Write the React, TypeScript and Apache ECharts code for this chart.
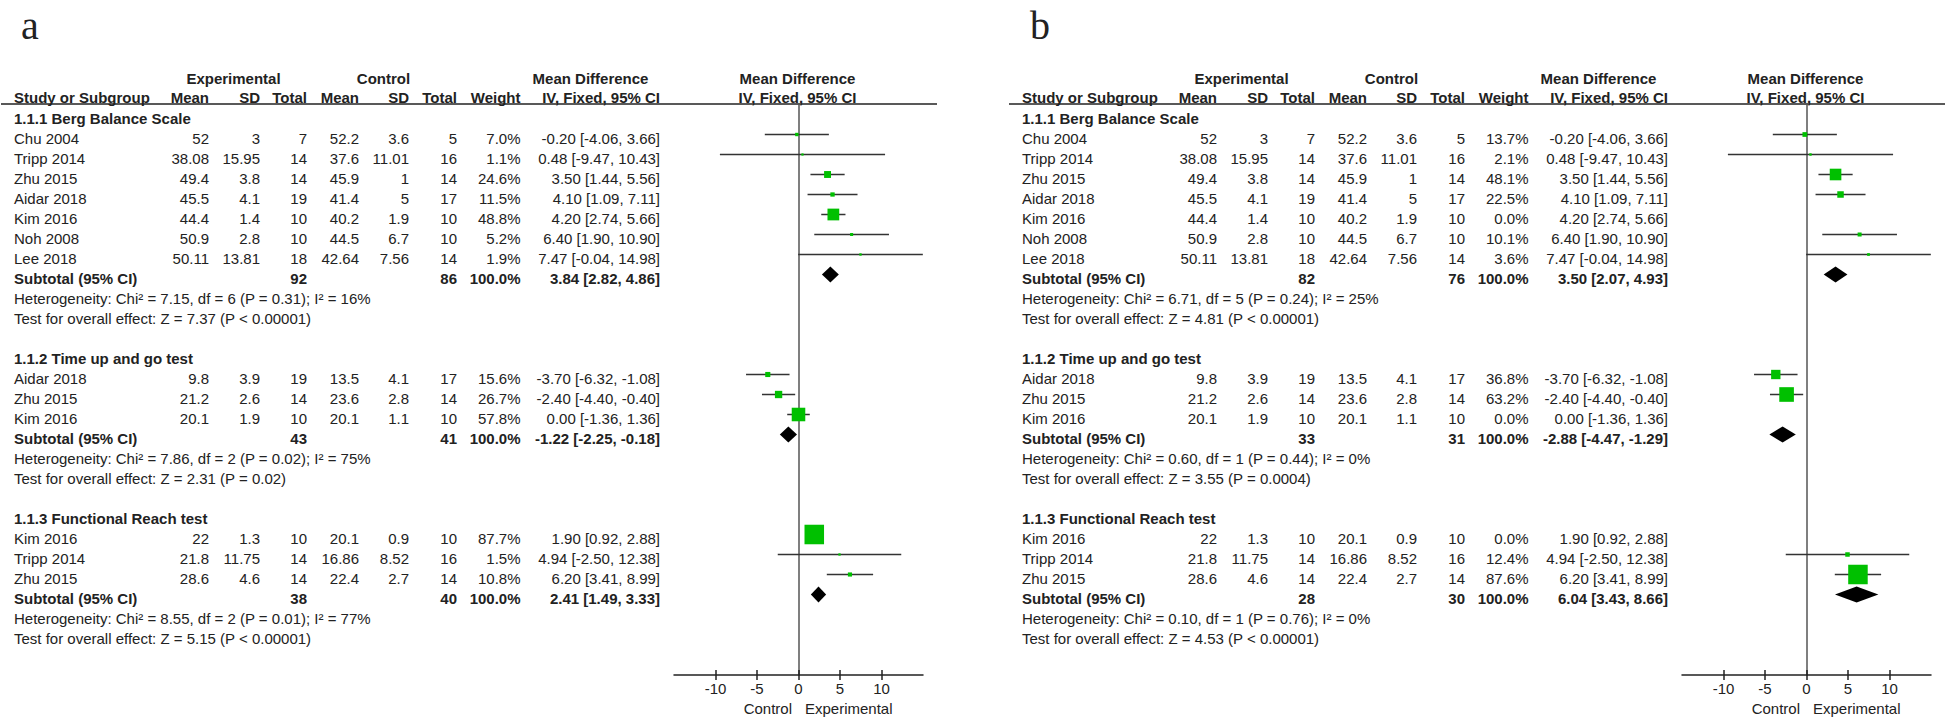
import React, { useEffect, useRef } from "react";
import * as echarts from "echarts";

// ---------- DATA ----------
const panelLabels = ["a", "b"];
const groupTitles = ["1.1.1 Berg Balance Scale", "1.1.2 Time up and go test", "1.1.3 Functional Reach test"];

// 1.1.1 Berg Balance Scale
const g1Names = ["Chu 2004", "Tripp 2014", "Zhu 2015", "Aidar 2018", "Kim 2016", "Noh 2008", "Lee 2018"];
const g1ExpMean = [52, 38.08, 49.4, 45.5, 44.4, 50.9, 50.11];
const g1ExpSD = [3, 15.95, 3.8, 4.1, 1.4, 2.8, 13.81];
const g1ExpN = [7, 14, 14, 19, 10, 10, 18];
const g1CtlMean = [52.2, 37.6, 45.9, 41.4, 40.2, 44.5, 42.64];
const g1CtlSD = [3.6, 11.01, 1, 5, 1.9, 6.7, 7.56];
const g1CtlN = [5, 16, 14, 17, 10, 10, 14];
const g1MD = [-0.2, 0.48, 3.5, 4.1, 4.2, 6.4, 7.47];
const g1Lo = [-4.06, -9.47, 1.44, 1.09, 2.74, 1.9, -0.04];
const g1Hi = [3.66, 10.43, 5.56, 7.11, 5.66, 10.9, 14.98];
const g1WeightA = [7.0, 1.1, 24.6, 11.5, 48.8, 5.2, 1.9];
const g1WeightB = [13.7, 2.1, 48.1, 22.5, 0.0, 10.1, 3.6];

// 1.1.2 Time up and go test
const g2Names = ["Aidar 2018", "Zhu 2015", "Kim 2016"];
const g2ExpMean = [9.8, 21.2, 20.1];
const g2ExpSD = [3.9, 2.6, 1.9];
const g2ExpN = [19, 14, 10];
const g2CtlMean = [13.5, 23.6, 20.1];
const g2CtlSD = [4.1, 2.8, 1.1];
const g2CtlN = [17, 14, 10];
const g2MD = [-3.7, -2.4, 0.0];
const g2Lo = [-6.32, -4.4, -1.36];
const g2Hi = [-1.08, -0.4, 1.36];
const g2WeightA = [15.6, 26.7, 57.8];
const g2WeightB = [36.8, 63.2, 0.0];

// 1.1.3 Functional Reach test
const g3Names = ["Kim 2016", "Tripp 2014", "Zhu 2015"];
const g3ExpMean = [22, 21.8, 28.6];
const g3ExpSD = [1.3, 11.75, 4.6];
const g3ExpN = [10, 14, 14];
const g3CtlMean = [20.1, 16.86, 22.4];
const g3CtlSD = [0.9, 8.52, 2.7];
const g3CtlN = [10, 16, 14];
const g3MD = [1.9, 4.94, 6.2];
const g3Lo = [0.92, -2.5, 3.41];
const g3Hi = [2.88, 12.38, 8.99];
const g3WeightA = [87.7, 1.5, 10.8];
const g3WeightB = [0.0, 12.4, 87.6];

// Subtotals
const subExpNA = [92, 43, 38];
const subCtlNA = [86, 41, 40];
const subMDA = [3.84, -1.22, 2.41];
const subLoA = [2.82, -2.25, 1.49];
const subHiA = [4.86, -0.18, 3.33];
const subExpNB = [82, 33, 28];
const subCtlNB = [76, 31, 30];
const subMDB = [3.5, -2.88, 6.04];
const subLoB = [2.07, -4.47, 3.43];
const subHiB = [4.93, -1.29, 8.66];

const hetA = [
  "Heterogeneity: Chi\u00b2 = 7.15, df = 6 (P = 0.31); I\u00b2 = 16%",
  "Heterogeneity: Chi\u00b2 = 7.86, df = 2 (P = 0.02); I\u00b2 = 75%",
  "Heterogeneity: Chi\u00b2 = 8.55, df = 2 (P = 0.01); I\u00b2 = 77%",
];
const testA = [
  "Test for overall effect: Z = 7.37 (P < 0.00001)",
  "Test for overall effect: Z = 2.31 (P = 0.02)",
  "Test for overall effect: Z = 5.15 (P < 0.00001)",
];
const hetB = [
  "Heterogeneity: Chi\u00b2 = 6.71, df = 5 (P = 0.24); I\u00b2 = 25%",
  "Heterogeneity: Chi\u00b2 = 0.60, df = 1 (P = 0.44); I\u00b2 = 0%",
  "Heterogeneity: Chi\u00b2 = 0.10, df = 1 (P = 0.76); I\u00b2 = 0%",
];
const testB = [
  "Test for overall effect: Z = 4.81 (P < 0.00001)",
  "Test for overall effect: Z = 3.55 (P = 0.0004)",
  "Test for overall effect: Z = 4.53 (P < 0.00001)",
];

const xTicks = [-10, -5, 0, 5, 10];
const favourLabels = ["Control", "Experimental"];

// ---------- LAYOUT ----------
const FONT = '"Liberation Sans", Arial, Helvetica, sans-serif';
const TXT = "#222";
const PANEL_DX = 1008;
const ROW0 = 118.5;
const ROW_H = 20;
const Y_TOP = 104;
const Y_AXIS = 675;
const COL = { left: 14, expMean: 209, expSD: 260, expN: 307, ctlMean: 359, ctlSD: 409, ctlN: 457, weight: 520.5, md: 660 };

const fmtCI = (m: number, l: number, h: number) => `${m.toFixed(2)} [${l.toFixed(2)}, ${h.toFixed(2)}]`;

function text(str: string, x: number, y: number, align: string, bold = false, size = 15, family = FONT) {
  return {
    type: "text",
    x,
    y,
    silent: true,
    style: {
      text: str,
      font: `${bold ? "bold " : ""}${size}px ${family}`,
      fill: TXT,
      align,
      verticalAlign: "middle",
      textAlign: align,
      textVerticalAlign: "middle",
    },
  };
}

export default function App() {
  const ref = useRef<HTMLDivElement>(null);

  useEffect(() => {
    document.body.style.margin = "0";
    if (!ref.current) return;
    const chart = echarts.init(ref.current, undefined, { renderer: "svg" });

    const groupsA = [
      { names: g1Names, em: g1ExpMean, es: g1ExpSD, en: g1ExpN, cm: g1CtlMean, cs: g1CtlSD, cn: g1CtlN, md: g1MD, lo: g1Lo, hi: g1Hi, w: g1WeightA },
      { names: g2Names, em: g2ExpMean, es: g2ExpSD, en: g2ExpN, cm: g2CtlMean, cs: g2CtlSD, cn: g2CtlN, md: g2MD, lo: g2Lo, hi: g2Hi, w: g2WeightA },
      { names: g3Names, em: g3ExpMean, es: g3ExpSD, en: g3ExpN, cm: g3CtlMean, cs: g3CtlSD, cn: g3CtlN, md: g3MD, lo: g3Lo, hi: g3Hi, w: g3WeightA },
    ];
    const groupsB = groupsA.map((g, i) => ({ ...g, w: [g1WeightB, g2WeightB, g3WeightB][i] }));
    const panels = [
      { groups: groupsA, sen: subExpNA, scn: subCtlNA, smd: subMDA, slo: subLoA, shi: subHiA, het: hetA, test: testA },
      { groups: groupsB, sen: subExpNB, scn: subCtlNB, smd: subMDB, slo: subLoB, shi: subHiB, het: hetB, test: testB },
    ];

    const graphics: any[] = [];
    const series: any[] = [];
    const grids: any[] = [];
    const xAxes: any[] = [];
    const yAxes: any[] = [];

    panels.forEach((p, pi) => {
      const dx = pi * PANEL_DX;
      // panel letter
      graphics.push(text(panelLabels[pi], 21 + dx + (pi ? 1 : 0), 25, "left", false, 40, '"Liberation Serif", "Times New Roman", serif'));
      // headers
      graphics.push(text("Experimental", 233.5 + dx, 78, "center", true));
      graphics.push(text("Control", 383.5 + dx, 78, "center", true));
      graphics.push(text("Mean Difference", 590.5 + dx, 78, "center", true));
      graphics.push(text("Mean Difference", 797.5 + dx, 78, "center", true));
      graphics.push(text("Study or Subgroup", COL.left + dx, 97.5, "left", true));
      graphics.push(text("Mean", COL.expMean + dx, 97.5, "right", true));
      graphics.push(text("SD", COL.expSD + dx, 97.5, "right", true));
      graphics.push(text("Total", COL.expN + dx, 97.5, "right", true));
      graphics.push(text("Mean", COL.ctlMean + dx, 97.5, "right", true));
      graphics.push(text("SD", COL.ctlSD + dx, 97.5, "right", true));
      graphics.push(text("Total", COL.ctlN + dx, 97.5, "right", true));
      graphics.push(text("Weight", COL.weight + dx, 97.5, "right", true));
      graphics.push(text("IV, Fixed, 95% CI", COL.md + dx, 97.5, "right", true));
      graphics.push(text("IV, Fixed, 95% CI", 797.5 + dx, 97.5, "center", true));
      graphics.push({
        type: "line",
        silent: true,
        shape: { x1: 1 + dx, y1: Y_TOP, x2: 937 + dx, y2: Y_TOP },
        style: { stroke: "#222", lineWidth: 1.3 },
      });
      // favours labels
      graphics.push(text(favourLabels[0], 792 + dx, 708, "right", false));
      graphics.push(text(favourLabels[1], 805 + dx, 708, "left", false));

      const studyData: any[] = [];
      const diamondData: any[] = [];
      let r = 0;
      p.groups.forEach((g, gi) => {
        const rowY = (k: number) => ROW0 + ROW_H * k;
        graphics.push(text(groupTitles[gi], COL.left + dx, rowY(r), "left", true));
        g.names.forEach((nm, si) => {
          const rr = r + 1 + si;
          const y = rowY(rr);
          graphics.push(text(nm, COL.left + dx, y, "left"));
          graphics.push(text(String(g.em[si]), COL.expMean + dx, y, "right"));
          graphics.push(text(String(g.es[si]), COL.expSD + dx, y, "right"));
          graphics.push(text(String(g.en[si]), COL.expN + dx, y, "right"));
          graphics.push(text(String(g.cm[si]), COL.ctlMean + dx, y, "right"));
          graphics.push(text(String(g.cs[si]), COL.ctlSD + dx, y, "right"));
          graphics.push(text(String(g.cn[si]), COL.ctlN + dx, y, "right"));
          graphics.push(text(g.w[si].toFixed(1) + "%", COL.weight + dx, y, "right"));
          graphics.push(text(fmtCI(g.md[si], g.lo[si], g.hi[si]), COL.md + dx, y, "right"));
          studyData.push([g.md[si], g.lo[si], g.hi[si], rr + 0.525, g.w[si]]);
        });
        const sr = r + 1 + g.names.length;
        const sy = rowY(sr);
        graphics.push(text("Subtotal (95% CI)", COL.left + dx, sy, "left", true));
        graphics.push(text(String(p.sen[gi]), COL.expN + dx, sy, "right", true));
        graphics.push(text(String(p.scn[gi]), COL.ctlN + dx, sy, "right", true));
        graphics.push(text("100.0%", COL.weight + dx, sy, "right", true));
        graphics.push(text(fmtCI(p.smd[gi], p.slo[gi], p.shi[gi]), COL.md + dx, sy, "right", true));
        diamondData.push([p.smd[gi], p.slo[gi], p.shi[gi], sr + 0.525]);
        graphics.push(text(p.het[gi], COL.left + dx, rowY(sr + 1), "left"));
        graphics.push(text(p.test[gi], COL.left + dx, rowY(sr + 2), "left"));
        r = sr + 4;
      });

      grids.push({ left: 674 + dx, top: Y_TOP, width: 249, height: Y_AXIS - Y_TOP });
      const baseX = (main: boolean) => ({
        type: "value",
        gridIndex: pi,
        min: -15,
        max: 15,
        interval: 5,
        position: "bottom",
        axisLine: { show: main, onZero: false, lineStyle: { color: "#222", width: 1.5 } },
        axisTick: { show: true, inside: !main, length: 5, customValues: xTicks, lineStyle: { color: "#222", width: 1.5 } },
        axisLabel: { show: main, customValues: xTicks, margin: 6, color: TXT, fontSize: 15, fontFamily: FONT },
        splitLine: { show: false },
      });
      xAxes.push(baseX(true));
      xAxes.push(baseX(false));
      yAxes.push({
        type: "value",
        gridIndex: pi,
        min: 0,
        max: (Y_AXIS - Y_TOP) / ROW_H,
        inverse: true,
        axisLine: { show: true, onZero: true, lineStyle: { color: "#555", width: 1.5 } },
        axisTick: { show: false },
        axisLabel: { show: false },
        splitLine: { show: false },
      });

      series.push({
        type: "custom",
        xAxisIndex: pi * 2,
        yAxisIndex: pi,
        clip: false,
        encode: { x: [0, 1, 2], y: 3 },
        data: studyData,
        renderItem: (_params: any, api: any) => {
          const md = api.value(0), lo = api.value(1), hi = api.value(2), yv = api.value(3), w = api.value(4);
          if (!(w > 0)) return { type: "group", children: [] };
          const a = api.coord([lo, yv]);
          const b = api.coord([hi, yv]);
          const c = api.coord([md, yv]);
          const s = 2 + 0.2 * w;
          return {
            type: "group",
            children: [
              { type: "line", shape: { x1: a[0], y1: a[1], x2: b[0], y2: b[1] }, style: { stroke: "#333", lineWidth: 1.5 } },
              { type: "rect", shape: { x: c[0] - s / 2, y: c[1] - s / 2, width: s, height: s }, style: { fill: "#00c000" } },
            ],
          };
        },
      });
      series.push({
        type: "custom",
        xAxisIndex: pi * 2,
        yAxisIndex: pi,
        clip: false,
        encode: { x: [0, 1, 2], y: 3 },
        data: diamondData,
        renderItem: (_params: any, api: any) => {
          const md = api.value(0), lo = api.value(1), hi = api.value(2), yv = api.value(3);
          const a = api.coord([lo, yv]);
          const b = api.coord([hi, yv]);
          const c = api.coord([md, yv]);
          const h = 8;
          return {
            type: "polygon",
            shape: { points: [[a[0], a[1]], [c[0], c[1] - h], [b[0], b[1]], [c[0], c[1] + h]] },
            style: { fill: "#000" },
          };
        },
      });
    });

    chart.setOption({
      animation: false,
      backgroundColor: "#fff",
      grid: grids,
      xAxis: xAxes,
      yAxis: yAxes,
      series,
      graphic: { elements: graphics },
    });

    return () => chart.dispose();
  }, []);

  return <div ref={ref} style={{ width: 1946, height: 718 }} />;
}
